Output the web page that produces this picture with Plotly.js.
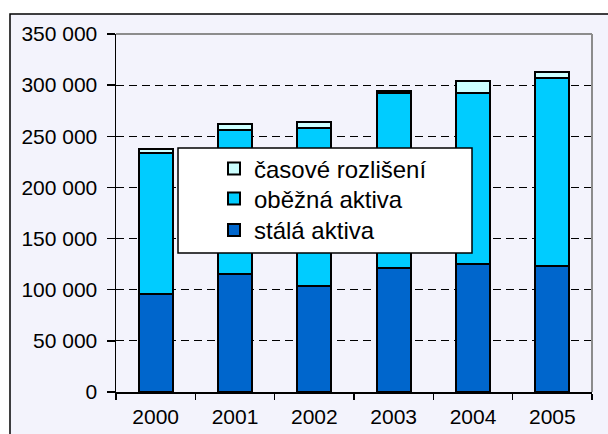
<!DOCTYPE html>
<html>
<head>
<meta charset="utf-8">
<script src="https://cdn.plot.ly/plotly-3.0.1.min.js"></script>
<style>html,body{margin:0;padding:0;background:#fff;overflow:hidden;}</style>
</head>
<body>
<div id="chart" style="width:608px;height:434px;"></div>
<script>
const years = ['2000', '2001', '2002', '2003', '2004', '2005'];
const stalaAktiva = [96000, 115000, 104000, 121000, 125000, 123000];
const obeznaAktiva = [138000, 141000, 154000, 171000, 167000, 184000];
const casoveRozliseni = [4000, 6000, 6000, 2000, 12000, 6000];
const seriesNames = ['stálá aktiva', 'oběžná aktiva', 'časové rozlišení'];
const seriesColors = ['#0066CC', '#00CCFF', '#CCFFFF'];
const yTickVals = [0, 50000, 100000, 150000, 200000, 250000, 300000, 350000];

const L = 116, R = 16, T = 34, B = 42, W = 608, H = 434;
const pw = W - L - R, ph = H - T - B;
const px = v => (v - L) / pw;
const py = v => (H - B - v) / ph;

const seriesData = [stalaAktiva, obeznaAktiva, casoveRozliseni];
const legendIds = ['legend3', 'legend2', 'legend'];
const traces = seriesData.map((vals, i) => ({
  type: 'bar',
  x: years,
  y: vals,
  name: seriesNames[i],
  legend: legendIds[i],
  width: 0.43,
  marker: {color: seriesColors[i], line: {color: '#000', width: 2}},
  hoverinfo: 'skip'
}));

const legendCommon = {
  xanchor: 'left', yanchor: 'middle',
  bgcolor: 'rgba(0,0,0,0)', borderwidth: 0,
  font: {family: 'Liberation Sans, Arial, sans-serif', size: 24, color: '#000'}
};
const lx = px(214);

const layout = {
  width: W, height: H,
  margin: {l: L, r: R, t: T, b: B, pad: 0},
  paper_bgcolor: '#F3F3FC',
  plot_bgcolor: '#F3F3FC',
  separators: ', ',
  barmode: 'stack',
  font: {family: 'Liberation Sans, Arial, sans-serif', size: 21, color: '#000'},
  xaxis: {
    type: 'category',
    showline: true, linecolor: '#000', linewidth: 1.5,
    ticks: 'outside', tickson: 'boundaries', ticklen: 6, tickcolor: '#000', tickwidth: 1.5,
    showgrid: false, zeroline: false,
    tickfont: {size: 21},
    ticklabelstandoff: 5
  },
  yaxis: {
    range: [0, 350000],
    tickvals: yTickVals,
    tickformat: ',d',
    showline: true, linecolor: '#000', linewidth: 1.5,
    ticks: 'outside', ticklen: 8, tickcolor: '#000', tickwidth: 1.5,
    showgrid: true, gridcolor: '#000', gridwidth: 1, griddash: '8px,5px',
    zeroline: false,
    tickfont: {size: 21},
    ticklabelstandoff: 5
  },
  showlegend: true,
  legend: Object.assign({x: lx, y: py(169)}, legendCommon),
  legend2: Object.assign({x: lx, y: py(199)}, legendCommon),
  legend3: Object.assign({x: lx, y: py(230.5)}, legendCommon),
  shapes: [
    {type: 'path', xref: 'paper', yref: 'paper', layer: 'below',
     path: `M ${px(-5)},${py(-5)} L ${px(620)},${py(-5)} L ${px(620)},${py(14)} L ${px(10)},${py(14)} L ${px(10)},${py(450)} L ${px(-5)},${py(450)} Z`,
     fillcolor: '#ffffff', line: {width: 0}},
    {type: 'path', xref: 'paper', yref: 'paper', layer: 'below',
     path: `M ${px(10)},${py(434)} L ${px(10)},${py(14)} L ${px(608)},${py(14)}`,
     line: {color: '#000', width: 1.5}},
    {type: 'line', xref: 'paper', yref: 'paper', layer: 'above',
     x0: 0, x1: 1, y0: 1, y1: 1, line: {color: '#8c8c8c', width: 2}},
    {type: 'line', xref: 'paper', yref: 'paper', layer: 'above',
     x0: 1, x1: 1, y0: 0, y1: 1, line: {color: '#8c8c8c', width: 2}},
    {type: 'rect', xref: 'paper', yref: 'paper', layer: 'above',
     x0: px(178), x1: px(472), y0: py(253), y1: py(148),
     fillcolor: '#ffffff', line: {color: '#000', width: 1.5}}
  ]
};

Plotly.newPlot('chart', traces, layout, {displayModeBar: false, staticPlot: true});
</script>
</body>
</html>
